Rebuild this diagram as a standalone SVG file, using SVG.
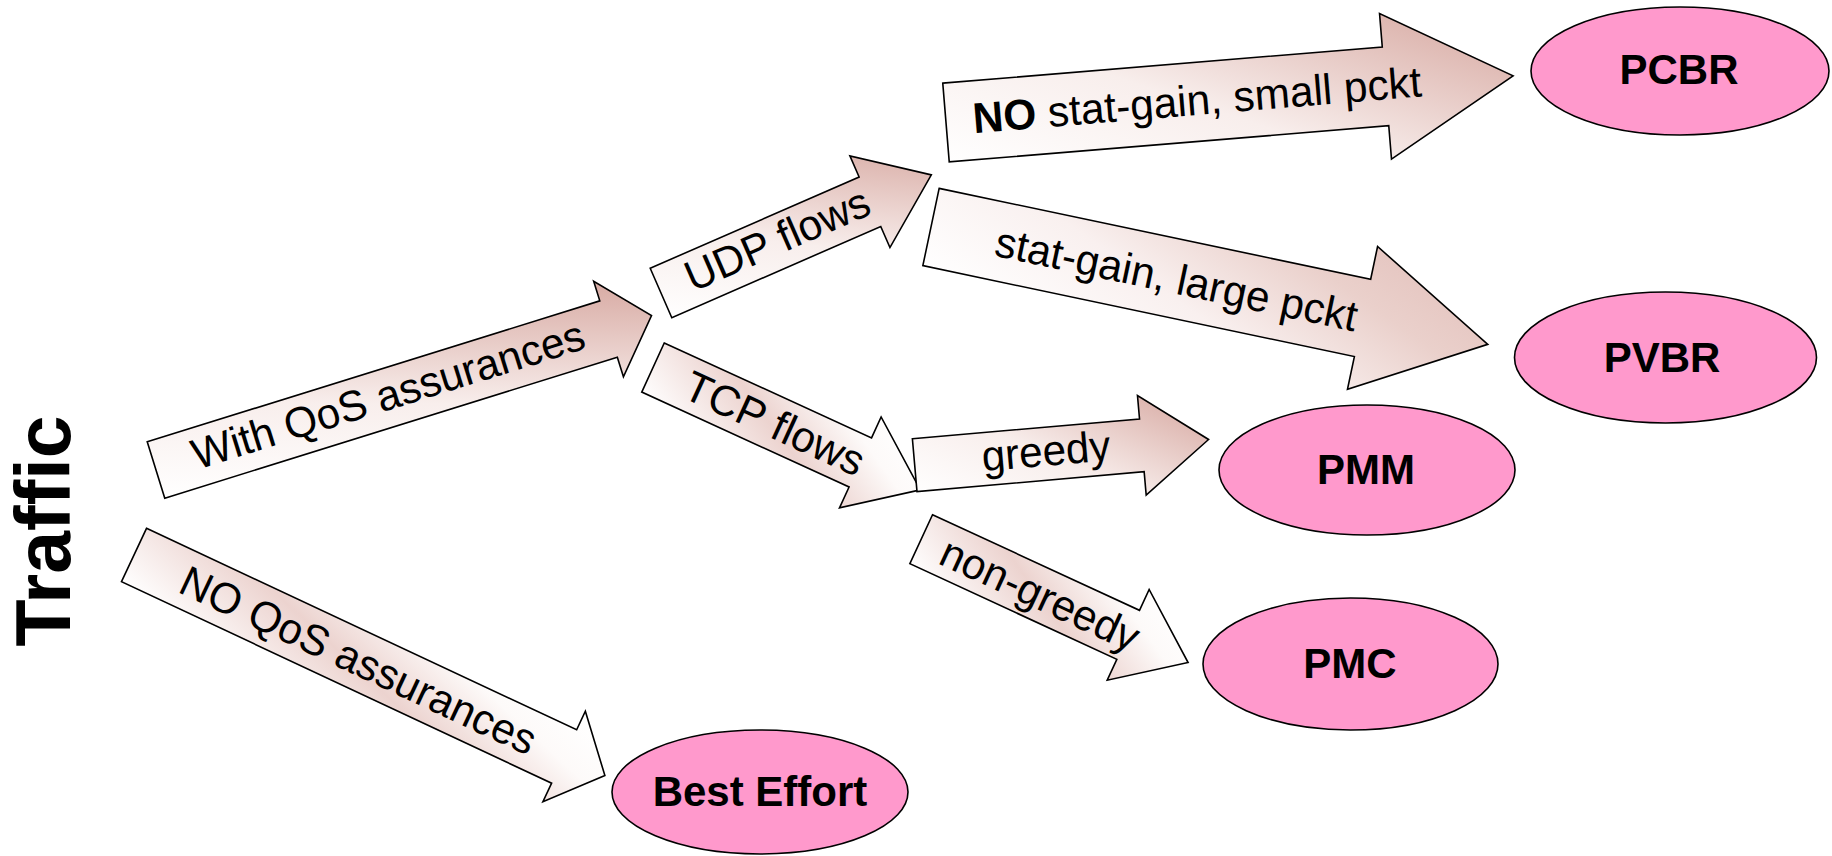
<svg xmlns="http://www.w3.org/2000/svg" width="1832" height="856" viewBox="0 0 1832 856">
<style>
.arrow{stroke:#000;stroke-width:1.6;stroke-linejoin:miter}
.up{fill:url(#gUp)}
.down{fill:url(#gMid)}
.soft{fill:url(#gSoft)}
.lbl{font-family:"Liberation Sans",Arial,sans-serif;font-size:43px;fill:#000;text-anchor:middle}
.node ellipse{fill:#FF99CC;stroke:#000;stroke-width:1.6}
.node text{font-family:"Liberation Sans",Arial,sans-serif;font-size:42px;font-weight:bold;fill:#000;text-anchor:middle}
</style>
<defs>
<linearGradient id="gUp" x1="0" y1="0.8" x2="1" y2="0.2">
<stop offset="0" stop-color="#FFFFFF"/>
<stop offset="0.45" stop-color="#F8EEEC"/>
<stop offset="1" stop-color="#D9ADA6"/>
</linearGradient>
<linearGradient id="gSoft" x1="0" y1="0.8" x2="1" y2="0.2">
<stop offset="0" stop-color="#FFFFFF"/>
<stop offset="0.4" stop-color="#F9F0EF"/>
<stop offset="0.75" stop-color="#EAD0CB"/>
<stop offset="1" stop-color="#E4C3BE"/>
</linearGradient>
<linearGradient id="gMid" x1="0" y1="0.8" x2="1" y2="0.2">
<stop offset="0" stop-color="#FFFFFF"/>
<stop offset="0.45" stop-color="#ECD3CF"/>
<stop offset="0.78" stop-color="#FDFAF9"/>
<stop offset="1" stop-color="#FFFFFF"/>
</linearGradient>
</defs>
<rect width="1832" height="856" fill="#FFFFFF"/>

<g id="traffic">
<text transform="translate(70,531) rotate(-90)" font-family="'Liberation Sans',Arial,sans-serif" font-size="77" font-weight="bold" text-anchor="middle">Traffic</text>
</g>

<g id="connectors">
<g id="arrow-with-qos" transform="translate(156,470) rotate(-17.3)">
<polygon class="arrow up" points="0,-29.5 474,-29.5 474,-50 519,0 474,50 474,29.5 0,29.5"/>
<text class="lbl" x="244" y="12" textLength="409" lengthAdjust="spacingAndGlyphs">With QoS assurances</text>
</g>
<g id="arrow-no-qos" transform="translate(134,555) rotate(25.1)">
<polygon class="arrow down" points="0,-29.5 475,-29.5 475,-50 520,0 475,50 475,29.5 0,29.5"/>
<text class="lbl" x="248" y="15" textLength="388" lengthAdjust="spacingAndGlyphs">NO QoS assurances</text>
</g>
<g id="arrow-udp" transform="translate(661,293) rotate(-23.6)">
<polygon class="arrow up" points="0,-27 228,-27 228,-50 295,0 228,50 228,27 0,27"/>
<text class="lbl" x="128" y="12" textLength="197" lengthAdjust="spacingAndGlyphs">UDP flows</text>
</g>
<g id="arrow-tcp" transform="translate(653,367.5) rotate(24.6)">
<polygon class="arrow down" points="0,-27 228,-27 228,-50 294,0 228,50 228,27 0,27"/>
<text class="lbl" x="134" y="15" textLength="193" lengthAdjust="spacingAndGlyphs">TCP flows</text>
</g>
<g id="arrow-no-stat-gain" transform="translate(946,122.5) rotate(-4.7)">
<polygon class="arrow up" points="0,-39.5 441,-39.5 441,-73 569,0 441,73 441,39.5 0,39.5"/>
<text class="lbl" x="252" y="13" textLength="450" lengthAdjust="spacingAndGlyphs"><tspan font-weight="bold">NO</tspan> stat-gain, small pckt</text>
</g>
<g id="arrow-stat-gain" transform="translate(931,227) rotate(11.9)">
<polygon class="arrow soft" points="0,-39.5 441,-39.5 441,-73 569,0 441,73 441,39.5 0,39.5"/>
<text class="lbl" x="251" y="15" textLength="369" lengthAdjust="spacingAndGlyphs">stat-gain, large pckt</text>
</g>
<g id="arrow-greedy" transform="translate(914.7,465.2) rotate(-5)">
<polygon class="arrow up" points="0,-26.5 228,-26.5 228,-50 295,0 228,50 228,26.5 0,26.5"/>
<text class="lbl" x="132" y="12" textLength="129" lengthAdjust="spacingAndGlyphs">greedy</text>
</g>
<g id="arrow-non-greedy" transform="translate(921.2,539.2) rotate(24.8)">
<polygon class="arrow down" points="0,-27 228,-27 228,-50 294,0 228,50 228,27 0,27"/>
<text class="lbl" x="131" y="15" textLength="214" lengthAdjust="spacingAndGlyphs">non-greedy</text>
</g>
</g>

<g id="node-pcbr" class="node">
<ellipse cx="1680" cy="71" rx="149" ry="64"/>
<text x="1679" y="84">PCBR</text>
</g>
<g id="node-pvbr" class="node">
<ellipse cx="1665.5" cy="357.5" rx="151" ry="65.5"/>
<text x="1662" y="372">PVBR</text>
</g>
<g id="node-pmm" class="node">
<ellipse cx="1367" cy="470" rx="148" ry="65"/>
<text x="1366" y="484">PMM</text>
</g>
<g id="node-pmc" class="node">
<ellipse cx="1350.5" cy="664" rx="147.5" ry="66"/>
<text x="1350" y="678">PMC</text>
</g>
<g id="node-best-effort" class="node">
<ellipse cx="760" cy="792" rx="148" ry="62"/>
<text x="760" y="806">Best Effort</text>
</g>
</svg>
